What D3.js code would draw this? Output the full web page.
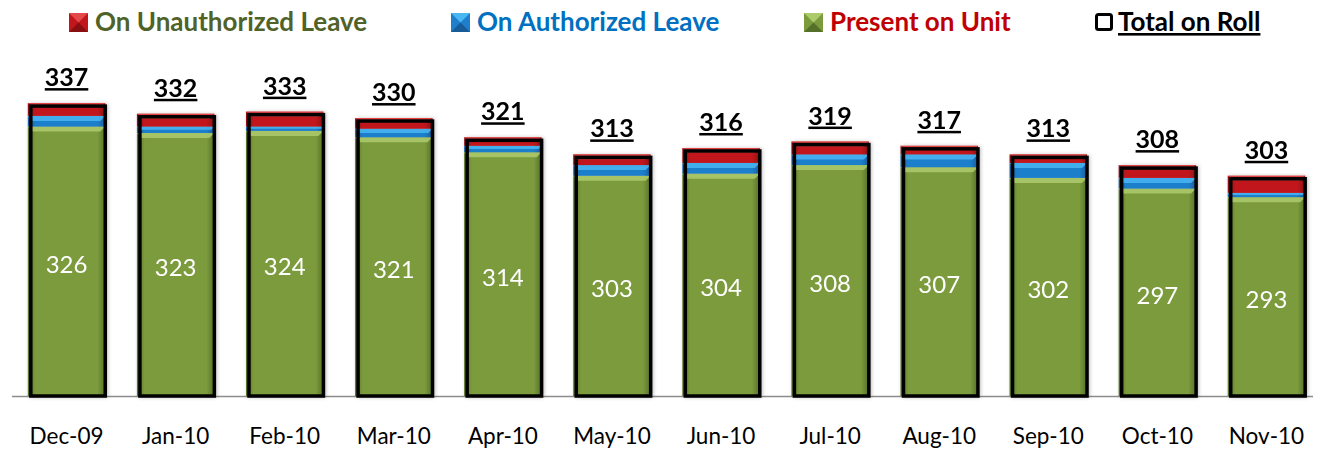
<!DOCTYPE html>
<html>
<head>
<meta charset="utf-8">
<script src="https://cdnjs.cloudflare.com/ajax/libs/d3/7.8.5/d3.min.js"></script>
<style>
  html, body { margin: 0; padding: 0; background: #fff; }
  svg { display: block; }
</style>
</head>
<body>
<div id="chart"></div>
<script>
// data
var months = ['Dec-09', 'Jan-10', 'Feb-10', 'Mar-10', 'Apr-10', 'May-10', 'Jun-10', 'Jul-10', 'Aug-10', 'Sep-10', 'Oct-10', 'Nov-10'];
var present = [326, 323, 324, 321, 314, 303, 304, 308, 307, 302, 297, 293];
var authorized = [5, 3, 2, 4, 3, 5, 5, 5, 6, 7, 5, 2];
var unauthorized = [6, 6, 7, 5, 4, 5, 7, 6, 4, 4, 6, 8];
var totals = [337, 332, 333, 330, 321, 313, 316, 319, 317, 313, 308, 303];

var width = 1325, height = 451;

var series = [
  { key: 'present', label: 'Present on Unit', values: present, body: '#7b9b3c', edge: '#55702a', top: '#aecb6c', text: '#c00000' },
  { key: 'auth', label: 'On Authorized Leave', values: authorized, body: '#1f7fcc', edge: '#175c98', top: '#4ab6f2', text: '#0070c0' },
  { key: 'unauth', label: 'On Unauthorized Leave', values: unauthorized, body: '#c0161c', edge: '#8a0f13', top: '#e44a4a', text: '#4f6228' }
];

var svg = d3.select('#chart').append('svg')
  .attr('width', width)
  .attr('height', height)
  .attr('font-family', 'Lato, "Open Sans", sans-serif');

var defs = svg.append('defs');
series.forEach(function(s) {
  var g = defs.append('linearGradient').attr('id', 'grad-' + s.key)
    .attr('x1', 0).attr('x2', 1).attr('y1', 0).attr('y2', 0);
  g.append('stop').attr('offset', '0%').attr('stop-color', s.edge);
  g.append('stop').attr('offset', '10%').attr('stop-color', s.body);
  g.append('stop').attr('offset', '90%').attr('stop-color', s.body);
  g.append('stop').attr('offset', '100%').attr('stop-color', s.edge);
});
var shadow = defs.append('filter').attr('id', 'shadow')
  .attr('x', '-20%').attr('y', '-20%').attr('width', '140%').attr('height', '140%');
shadow.append('feDropShadow').attr('dx', 2).attr('dy', 1).attr('stdDeviation', 2)
  .attr('flood-color', '#000').attr('flood-opacity', 0.35);

var x = d3.scaleBand()
  .domain(months)
  .range([12, 1321])
  .paddingInner(0.29)
  .paddingOuter(0.145);

var y = d3.scaleLinear()
  .domain([200, 350])
  .range([396, 75.3]);

// stacked data
var table = months.map(function(m, i) {
  return { month: m, present: present[i], auth: authorized[i], unauth: unauthorized[i], total: totals[i] };
});
var stack = d3.stack().keys(['present', 'auth', 'unauth'])(table);

// base line
svg.append('line')
  .attr('x1', 12).attr('x2', 1313)
  .attr('y1', y(200) + 0.5).attr('y2', y(200) + 0.5)
  .attr('stroke', '#8c8c8c').attr('stroke-width', 1.5);

var layers = svg.append('g').attr('filter', 'url(#shadow)')
  .selectAll('g.layer')
  .data(stack)
  .enter().append('g')
    .attr('class', 'layer');

layers.each(function(layer, li) {
  var s = series[li];
  var g = d3.select(this);
  var segs = g.selectAll('g.seg').data(layer).enter().append('g').attr('class', 'seg');
  segs.append('rect')
    .attr('x', function(d) { return x(d.data.month); })
    .attr('y', function(d) { return y(d[1]); })
    .attr('width', x.bandwidth())
    .attr('height', function(d) { return y(Math.max(d[0], 200)) - y(d[1]); })
    .attr('fill', 'url(#grad-' + s.key + ')');
  // top bevel highlight
  segs.append('path')
    .attr('d', function(d) {
      var x0 = x(d.data.month), x1 = x0 + x.bandwidth(), t = y(d[1]);
      var b = Math.min(5, (y(Math.max(d[0], 200)) - t) / 2);
      return 'M' + x0 + ',' + t + 'L' + x1 + ',' + t + 'L' + (x1 - b) + ',' + (t + b) + 'L' + (x0 + b) + ',' + (t + b) + 'Z';
    })
    .attr('fill', s.top)
    .attr('opacity', 0.85);
});

// total on roll frame
svg.append('g').selectAll('rect.total')
  .data(table)
  .enter().append('rect')
    .attr('class', 'total')
    .attr('x', function(d) { return x(d.month) + 3; })
    .attr('y', function(d) { return y(d.total) + 3; })
    .attr('width', x.bandwidth() - 3)
    .attr('height', function(d) { return y(200) - y(d.total) - 3; })
    .attr('fill', 'none')
    .attr('stroke', '#000')
    .attr('stroke-width', 3.5);

// present labels
svg.append('g').selectAll('text')
  .data(stack[0])
  .enter().append('text')
    .attr('x', function(d) { return x(d.data.month) + x.bandwidth() / 2; })
    .attr('y', function(d) { return (y(d[1]) + y(200)) / 2 + 3; })
    .attr('dy', '0.35em')
    .attr('text-anchor', 'middle')
    .attr('fill', '#fff')
    .attr('font-size', 24)
    .text(function(d) { return d.data.present; });

// total labels
svg.append('g').selectAll('text')
  .data(table)
  .enter().append('text')
    .attr('x', function(d) { return x(d.month) + x.bandwidth() / 2; })
    .attr('y', function(d) { return y(d.total) - 17; })
    .attr('text-anchor', 'middle')
    .attr('font-weight', 'bold')
    .attr('font-size', 25)
    .attr('text-decoration', 'underline')
    .attr('fill', '#000')
    .text(function(d) { return d.total; });

// x axis labels
var xAxis = d3.axisBottom(x).tickSize(0).tickPadding(0);
var ax = svg.append('g')
  .attr('transform', 'translate(0,' + 428 + ')')
  .call(xAxis);
ax.select('.domain').remove();
ax.selectAll('text')
  .attr('font-family', 'Lato, "Open Sans", sans-serif')
  .attr('font-size', 22.5)
  .attr('fill', '#000');

// legend
var legendItems = [
  { label: 'On Unauthorized Leave', s: series[2], x: 69 },
  { label: 'On Authorized Leave', s: series[1], x: 451 },
  { label: 'Present on Unit', s: series[0], x: 804 },
  { label: 'Total on Roll', s: null, x: 1095 }
];
var legend = svg.append('g').selectAll('g')
  .data(legendItems)
  .enter().append('g')
    .attr('transform', function(d) { return 'translate(' + d.x + ',13)'; });

legend.each(function(d) {
  var g = d3.select(this);
  if (d.s) {
    g.append('rect').attr('width', 19).attr('height', 19).attr('fill', d.s.body);
    g.append('path').attr('d', 'M0,0L19,0L9.5,9.5Z').attr('fill', d.s.top);
    g.append('path').attr('d', 'M0,19L19,19L9.5,9.5Z').attr('fill', d.s.edge);
    g.append('text')
      .attr('x', 26).attr('y', 18)
      .attr('font-weight', 'bold').attr('font-size', 26)
      .attr('fill', d.s.text)
      .text(d.label);
  } else {
    g.append('rect').attr('x', 1.5).attr('y', 1.5).attr('width', 15).attr('height', 15)
      .attr('fill', '#fff').attr('stroke', '#000').attr('stroke-width', 3).attr('rx', 2);
    g.append('text')
      .attr('x', 23).attr('y', 18)
      .attr('font-weight', 'bold').attr('font-size', 26)
      .attr('text-decoration', 'underline')
      .attr('fill', '#000')
      .text(d.label);
  }
});
</script>
</body>
</html>
